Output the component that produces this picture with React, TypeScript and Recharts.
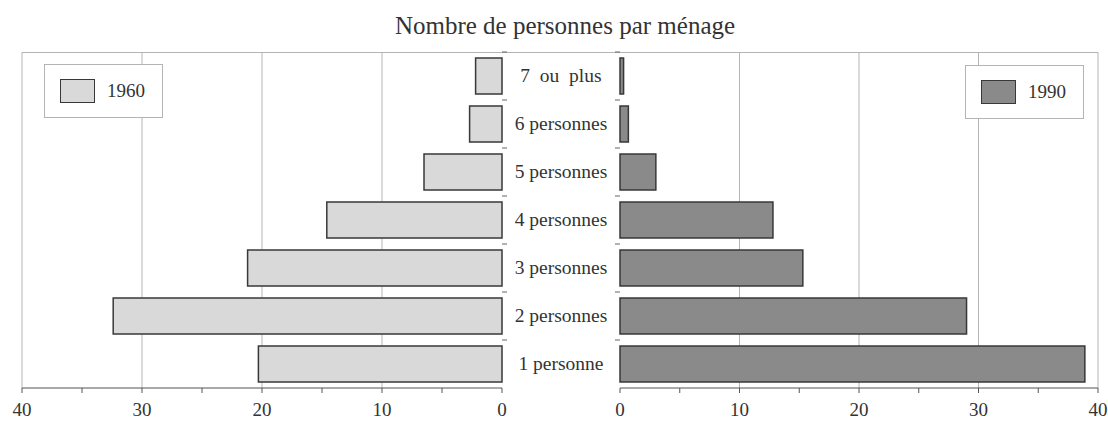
import React from 'react';
import { BarChart, Bar, XAxis, YAxis, CartesianGrid } from 'recharts';

// Nombre de personnes par ménage (%), 1960 vs 1990
const categories = ['7  ou  plus', '6 personnes', '5 personnes', '4 personnes', '3 personnes', '2 personnes', '1 personne'];
const values1960 = [2.2, 2.7, 6.5, 14.6, 21.2, 32.4, 20.3];
const values1990 = [0.3, 0.7, 3.0, 12.8, 15.3, 29.0, 38.9];
const xTicks = [0, 5, 10, 15, 20, 25, 30, 35, 40];
const gridValues = [10, 20, 30, 40];

const data = categories.map((cat, i) => ({ cat, v1960: values1960[i], v1990: values1990[i] }));

const FONT = '"Liberation Serif", "Times New Roman", serif';
const TOP = 52;
const AXIS_H = 33;
const H = 421;
const CENTER_W = 118;
const BAND = (H - TOP - AXIS_H) / categories.length;

const LIGHT = '#d9d9d9';
const DARK = '#8a8a8a';
const EDGE = '#383838';
const GRID = '#b4b4b4';
const TEXT = '#333';

const XTick = (props: any) => {
  const { x, y, payload } = props;
  if (payload.value % 10 !== 0) return null;
  return (
    <text x={x} y={y + 21} textAnchor="middle" fontFamily={FONT} fontSize={19} fill={TEXT}>
      {payload.value}
    </text>
  );
};

const CatTick = (props: any) => {
  const { x, y, payload } = props;
  return (
    <g>
      <line x1={x} x2={x + 5} y1={y - BAND / 2} y2={y - BAND / 2} stroke="#666" />
      <line x1={x + CENTER_W - 5} x2={x + CENTER_W} y1={y - BAND / 2} y2={y - BAND / 2} stroke="#666" />
      <text x={x + CENTER_W / 2} y={y + 6} textAnchor="middle" fontFamily={FONT} fontSize={19.5} fill={TEXT} style={{ whiteSpace: 'pre' }}>
        {payload.value}
      </text>
    </g>
  );
};

const LegendBox = ({ label, fill, left, top }: { label: string; fill: string; left: number; top: number }) => (
  <div
    style={{
      position: 'absolute',
      left,
      top,
      width: 119,
      height: 54,
      border: `1px solid ${GRID}`,
      background: '#fff',
      boxSizing: 'border-box',
      display: 'flex',
      alignItems: 'center',
      fontFamily: FONT,
      fontSize: 19,
      color: TEXT,
    }}
  >
    <span style={{ display: 'inline-block', width: 35, height: 24, background: fill, border: `1.5px solid ${EDGE}`, marginLeft: 15, marginRight: 12, boxSizing: 'border-box' }} />
    {label}
  </div>
);

export default function App() {
  return (
    <div style={{ position: 'absolute', left: 0, top: 0, width: 1108, height: H, background: '#fff', overflow: 'hidden' }}>
      <div style={{ position: 'absolute', left: 0, top: 12, width: 1130, textAlign: 'center', fontFamily: FONT, fontSize: 25, color: TEXT }}>
        Nombre de personnes par ménage
      </div>
      <div style={{ position: 'absolute', left: 22, top: TOP, width: 1076, borderTop: `1px solid ${GRID}` }} />

      <div style={{ position: 'absolute', left: 0, top: 0 }}>
        <BarChart width={620} height={H} data={data} layout="vertical" margin={{ top: TOP, right: 0, bottom: 0, left: 22 }} barCategoryGap={6}>
          <CartesianGrid horizontal={false} verticalValues={gridValues} stroke={GRID} />
          <XAxis type="number" domain={[0, 40]} reversed ticks={xTicks} height={AXIS_H} tick={<XTick />} tickSize={5} stroke="#555" interval={0} />
          <YAxis type="category" dataKey="cat" orientation="right" width={CENTER_W} axisLine={false} tickLine={false} tickSize={0} tickMargin={0} tick={<CatTick />} interval={0} />
          <Bar dataKey="v1960" fill={LIGHT} stroke={EDGE} strokeWidth={1.5} isAnimationActive={false} />
        </BarChart>
      </div>

      <div style={{ position: 'absolute', left: 600, top: 0 }}>
        <BarChart width={508} height={H} data={data} layout="vertical" margin={{ top: TOP, right: 10, bottom: 0, left: 20 }} barCategoryGap={6}>
          <CartesianGrid horizontal={false} verticalValues={gridValues} stroke={GRID} />
          <XAxis type="number" domain={[0, 40]} ticks={xTicks} height={AXIS_H} tick={<XTick />} tickSize={5} stroke="#555" interval={0} />
          <YAxis type="category" dataKey="cat" hide />
          <Bar dataKey="v1990" fill={DARK} stroke={EDGE} strokeWidth={1.5} isAnimationActive={false} />
        </BarChart>
      </div>

      <LegendBox label="1960" fill={LIGHT} left={44} top={64} />
      <LegendBox label="1990" fill={DARK} left={965} top={65} />
    </div>
  );
}
